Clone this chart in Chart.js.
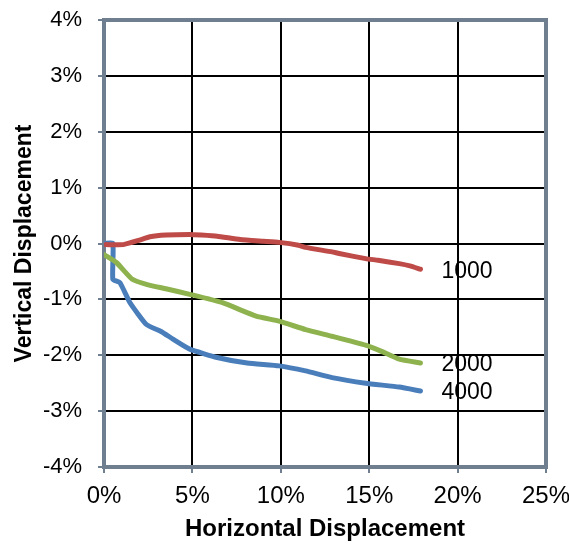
<!DOCTYPE html>
<html>
<head>
<meta charset="utf-8">
<script src="https://cdn.jsdelivr.net/npm/chart.js@4"></script>
<style>
  html, body { margin: 0; padding: 0; background: #fff; }
  #wrap { width: 569px; height: 548px; }
</style>
</head>
<body>
<div id="wrap"><canvas id="chart" width="569" height="548"></canvas></div>
<script>
// values in percent
const seriesNames = ["1000", "2000", "4000"];

const x1000 = [0.1, 1.1, 2.0, 2.6, 3.5, 4.85, 5.5, 6.4, 7.7, 9.0, 9.9, 11.0, 11.4, 12.9, 13.3, 14.8, 15.5, 16.7, 17.3, 17.9];
const y1000 = [-0.02, -0.02, 0.06, 0.12, 0.15, 0.16, 0.15, 0.13, 0.07, 0.04, 0.02, -0.03, -0.07, -0.15, -0.18, -0.27, -0.30, -0.36, -0.40, -0.46];

const x2000 = [0, 0.7, 1.6, 2.4, 3.5, 4.85, 6.7, 8.6, 9.9, 11.4, 12.9, 14.8, 15.7, 16.7, 17.9];
const y2000 = [-0.20, -0.34, -0.64, -0.73, -0.81, -0.91, -1.06, -1.30, -1.39, -1.54, -1.66, -1.82, -1.93, -2.07, -2.14];

const x4000 = [0, 0.5, 0.5, 0.9, 1.47, 2.4, 3.2, 3.9, 4.85, 6.4, 8.1, 9.9, 11.4, 12.9, 14.8, 16.7, 17.9];
const y4000 = [0, 0, -0.64, -0.70, -1.06, -1.45, -1.57, -1.71, -1.89, -2.04, -2.14, -2.19, -2.28, -2.40, -2.50, -2.57, -2.64];

const xTicks = [0, 5, 10, 15, 20, 25];
const yTicks = [-4, -3, -2, -1, 0, 1, 2, 3, 4];

const colors = ["#be4b48", "#8db24e", "#4a7ebb"];
const FONT = "'Liberation Sans', Arial, sans-serif";

const toPoints = (xs, ys) => xs.map((x, i) => ({ x: x, y: ys[i] }));

// grey frame round the plot area
const plotFrame = {
	id: "plotFrame",
	beforeDatasetsDraw(chart) {
		const { ctx, chartArea: a } = chart;
		ctx.save();
		ctx.strokeStyle = "#6f7f8f";
		ctx.lineWidth = 4;
		ctx.strokeRect(a.left, a.top, a.right - a.left, a.bottom - a.top);
		ctx.restore();
	},
};

// series name next to the last point of each line
const endLabels = {
	id: "endLabels",
	afterDatasetsDraw(chart) {
		const { ctx } = chart;
		ctx.save();
		ctx.font = "23px " + FONT;
		ctx.fillStyle = "#000";
		ctx.textAlign = "left";
		ctx.textBaseline = "middle";
		chart.data.datasets.forEach((ds, i) => {
			const meta = chart.getDatasetMeta(i);
			const last = meta.data[meta.data.length - 1];
			ctx.fillText(ds.label, last.x + 21, last.y + 2);
		});
		ctx.restore();
	},
};

new Chart(document.getElementById("chart"), {
	type: "scatter",
	data: {
		datasets: [
			{ label: seriesNames[0], data: toPoints(x1000, y1000) },
			{ label: seriesNames[1], data: toPoints(x2000, y2000) },
			{ label: seriesNames[2], data: toPoints(x4000, y4000) },
		].map((ds, i) => Object.assign(ds, {
			showLine: true,
			borderColor: colors[i],
			borderWidth: 5,
			pointRadius: 0,
			tension: 0.15,
			borderCapStyle: "round",
			borderJoinStyle: "round",
		})),
	},
	options: {
		responsive: false,
		animation: false,
		layout: { padding: { top: 20, right: 23, bottom: 4, left: 0 } },
		scales: {
			x: {
				type: "linear",
				min: 0,
				max: 25,
				afterBuildTicks: (s) => { s.ticks = xTicks.map((v) => ({ value: v })); },
				afterFit: (s) => { s.height = 77; s.paddingLeft = 0; s.paddingRight = 0; },
				grid: { color: "#000", lineWidth: 2, tickColor: "#6f7f8f", tickLength: 6 },
				border: { display: false },
				ticks: {
					color: "#000",
					padding: 9,
					font: { family: FONT, size: 24 },
					callback: (v) => v + "%",
				},
				title: {
					display: true,
					text: "Horizontal Displacement",
					color: "#000",
					padding: { top: 0, bottom: 0 },
					font: { family: FONT, size: 24, weight: "bold" },
				},
			},
			y: {
				type: "linear",
				min: -4,
				max: 4,
				afterBuildTicks: (s) => { s.ticks = yTicks.map((v) => ({ value: v })); },
				afterFit: (s) => { s.width = 104; s.paddingTop = 0; s.paddingBottom = 0; },
				grid: { color: "#000", lineWidth: 2, tickColor: "#6f7f8f", tickLength: 6 },
				border: { display: false },
				ticks: {
					color: "#000",
					padding: 16,
					font: { family: FONT, size: 22 },
					callback: (v) => v + "%",
				},
				title: {
					display: true,
					text: "Vertical Displacement",
					color: "#000",
					padding: { top: 11, bottom: 0 },
					font: { family: FONT, size: 23, weight: "bold" },
				},
			},
		},
		plugins: {
			legend: { display: false },
			tooltip: { enabled: false },
		},
	},
	plugins: [plotFrame, endLabels],
});
</script>
</body>
</html>
